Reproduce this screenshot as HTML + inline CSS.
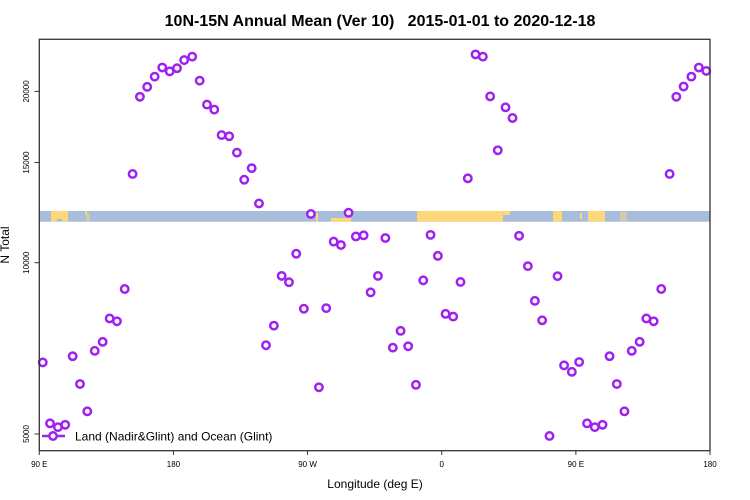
<!DOCTYPE html>
<html><head><meta charset="utf-8"><style>
html,body{margin:0;padding:0;background:#fff;}
svg{display:block;font-family:"Liberation Sans",sans-serif;}
</style></head><body>
<svg id="chart" width="750" height="500" viewBox="0 0 750 500">
<text x="380" y="26" text-anchor="middle" font-size="16" font-weight="bold" fill="#000" style="white-space:pre">10N-15N Annual Mean (Ver 10)&#160;&#160;&#160;2015-01-01 to 2020-12-18</text>
<g id="band">
<rect x="39.3" y="211" width="670.7" height="10.7" fill="#a8bcdc"/>
<rect x="51" y="211" width="6" height="10.7" fill="#fdd77a"/>
<rect x="57" y="211" width="5" height="8" fill="#fdd77a"/>
<rect x="62" y="211" width="6" height="10.7" fill="#fdd77a"/>
<rect x="85" y="211" width="2" height="4" fill="#fdd77a"/>
<rect x="86" y="214" width="4" height="7" fill="#fdd77a" opacity="0.5"/>
<rect x="308" y="211" width="4" height="3" fill="#fdd77a"/>
<rect x="316" y="213" width="2" height="8.7" fill="#fdd77a"/>
<rect x="331" y="218" width="20" height="3.7" fill="#fdd77a"/>
<rect x="417" y="211" width="86" height="10.7" fill="#fdd77a"/>
<rect x="503" y="211" width="7" height="4" fill="#fdd77a"/>
<rect x="553" y="211" width="9" height="10.7" fill="#fdd77a"/>
<rect x="580" y="213" width="2" height="6" fill="#fdd77a"/>
<rect x="588" y="211" width="17" height="10.7" fill="#fdd77a"/>
<rect x="620" y="212" width="7" height="9" fill="#fdd77a" opacity="0.5"/>
</g>
<g id="axes"></g>
<g id="points"></g>
<rect x="39.3" y="39.3" width="670.7" height="411.4" fill="none" stroke="#333" stroke-width="1.3"/>
<g>
<line x1="42" y1="436" x2="65" y2="436" stroke="#a020f0" stroke-width="2.5"/>
<circle cx="53" cy="436" r="3.7" fill="#fff" stroke="#a020f0" stroke-width="2.5"/>
<text x="75" y="440.5" font-size="12" fill="#000">Land (Nadir&amp;Glint) and Ocean (Glint)</text>
</g>
<text x="375" y="488" text-anchor="middle" font-size="12" fill="#000">Longitude (deg E)</text>
<text x="0" y="0" transform="translate(9,245) rotate(-90)" text-anchor="middle" font-size="12" fill="#000">N Total</text>
</svg>
<script>
const lons = [92.3,97.2,102.5,107.4,112.4,117.3,122.2,127.2,132.5,137.2,142.1,147.3,152.6,157.5,162.4,167.4,172.5,177.5,182.4,187.2,192.6,197.6,202.5,207.4,212.3,217.4,222.6,227.5,232.5,237.4,242.1,247.4,252.6,257.5,262.4,267.5,272.2,277.6,282.5,287.5,292.4,297.5,302.4,307.6,312.3,317.2,322.2,327.2,332.4,337.5,342.7,347.6,352.5,357.4,362.6,367.7,372.6,377.5,382.7,387.6,392.5,397.6,402.8,407.5,411.9,417.8,422.5,427.4,432.3,437.7,442.1,447.3,452.2,457.5,462.7,467.9,472.6,477.5,482.6,487.5,492.8,497.3,502.2,507.3,512.9,517.4,522.3,527.5,532.5,537.5];
const nTotal = [6680,5220,5140,5190,6850,6120,5480,7000,7260,7980,7890,8990,14320,19570,20370,21230,22030,21690,21970,22700,23020,20890,18960,18580,16760,16680,15610,13990,14660,12710,7160,7750,9480,9240,10370,8300,12180,6040,8320,10890,10740,12240,11120,11170,8870,9480,11050,7090,7590,7130,6100,9310,11190,10280,8130,8040,9250,14070,23230,23020,19600,15760,18750,17960,11150,9860,8570,7920,4960,9470,6600,6430,6690,5220,5140,5190,6850,6120,5480,7000,7260,7980,7890,8990,14320,19570,20400,21230,22030,21730];
const xTickVals = [90,180,270,360,450,540];
const xTickLabels = ["90 E","180","90 W","0","90 E","180"];
const yTickVals = [5000,10000,15000,20000];
const yTickLabels = ["5000","10000","15000","20000"];

const NS = "http://www.w3.org/2000/svg";
const X0 = 39.3, X1 = 710, Y10k = 262.7, PXDEC = 569;
function xScale(lon){ return X0 + (lon - 90) * (X1 - X0) / 450; }
function yScale(v){ return Y10k - (Math.log10(v) - 4) * PXDEC; }
function mk(tag, attrs){ const e = document.createElementNS(NS, tag); for (const k in attrs) e.setAttribute(k, attrs[k]); return e; }

const axes = document.getElementById('axes');
xTickVals.forEach((v, i) => {
  const x = xScale(v);
  const t = mk('line', {x1:x, y1:450.7, x2:x, y2:455, stroke:'#333', 'stroke-width':1});
  
  
  axes.appendChild(t);
  const l = mk('text', {x:x, y:467, 'text-anchor':'middle', 'font-size':8, fill:'#000'});
  l.textContent = xTickLabels[i];
  
  
  axes.appendChild(l);
});
yTickVals.forEach((v, i) => {
  const y = yScale(v);
  const t = mk('line', {x1:34.5, y1:y, x2:39.3, y2:y, stroke:'#333', 'stroke-width':1});
  
  
  axes.appendChild(t);
  const l = mk('text', {x:0, y:0, transform:'translate(29,' + y + ') rotate(-90)', 'text-anchor':'middle', 'font-size':8, fill:'#000'});
  l.textContent = yTickLabels[i];
  
  
  axes.appendChild(l);
});

const pts = document.getElementById('points');
lons.forEach((lon, i) => {
  const c = mk('circle', {cx:xScale(lon), cy:yScale(nTotal[i]), r:3.7, fill:'#fff', stroke:'#a020f0', 'stroke-width':2.5});
  
  
  pts.appendChild(c);
});
</script>
</body></html>
